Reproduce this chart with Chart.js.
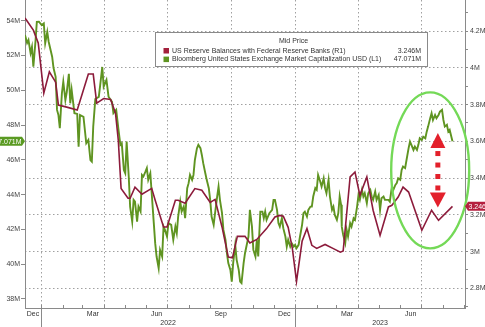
<!DOCTYPE html>
<html><head><meta charset="utf-8">
<script src="https://cdn.jsdelivr.net/npm/chart.js@4.4.0/dist/chart.umd.min.js"></script>
<style>html,body{margin:0;padding:0;background:#fff;overflow:hidden}canvas{display:block}</style>
</head><body><canvas id="c" width="485" height="327"></canvas>
<script>
// ---------- data ----------
// x values are days counted from baseDate
const baseDate = '2022-01-01';
const axisStartDay = -23;
const axisEndDay = 609;

// US Reserve Balances with Federal Reserve Banks, millions (right axis)
const reserveDays = [-23,-11,-4,4,12,21,25,37,52,68,
  75,80,90,100,107,111,115,125,128,135,
  145,159,164,176,181,193,197,207,221,231,
  243,250,260,269,275,282,293,300,310,324,
  336,343,348,355,361,367,375,382,389,396,
  408,420,430,434,444,451,458,468,477,487,
  499,504,513,520,528,547,561,571,591];
const reserveValues = [4.271,4.205,4.135,3.862,3.978,3.922,3.797,3.786,3.770,3.966,
  3.966,3.808,3.833,3.828,3.753,3.606,3.344,3.290,3.290,3.351,
  3.312,3.344,3.279,3.134,3.134,3.279,3.279,3.263,3.343,3.334,
  3.268,3.284,3.134,2.970,2.966,3.083,3.083,3.047,3.066,3.125,
  3.188,3.197,3.192,3.132,3.017,2.838,3.056,3.126,3.034,3.017,
  3.039,3.016,2.997,3.003,3.406,3.433,3.306,3.406,3.225,3.088,
  3.243,3.252,3.297,3.351,3.324,3.116,3.225,3.170,3.246];

// Bloomberg United States Exchange Market Capitalization USD, millions (left axis)
const mcapDays = [-23,-20,-18,-15,-13,-11,-8,-6,-3,1,
  4,6,9,11,16,18,21,23,25,27,
  30,32,35,37,40,42,44,48,52,54,
  56,61,65,68,71,73,75,78,83,85,
  88,90,94,97,102,104,108,111,114,116,
  119,121,123,126,128,131,133,135,138,140,
  143,145,147,150,152,154,157,159,162,164,
  166,169,171,174,176,178,181,183,187,190,
  193,195,197,200,202,205,207,210,212,214,
  217,219,221,224,226,229,231,233,236,238,
  241,243,245,248,250,253,255,257,260,262,
  265,267,269,272,274,276,279,281,284,286,
  288,291,293,298,300,303,305,308,310,312,
  315,318,320,322,324,328,332,334,336,339,
  341,343,346,348,351,353,355,358,360,363,
  365,367,370,372,375,377,379,382,384,387,
  389,391,394,396,398,401,403,406,408,410,
  413,415,418,420,422,425,427,429,431,432,
  434,437,439,441,444,446,449,451,454,456,
  458,461,463,465,468,470,473,475,477,480,
  482,485,487,489,492,494,499,501,504,506,
  509,511,513,516,518,520,523,525,528,530,
  532,535,537,540,542,544,547,549,552,554,
  556,559,561,563,566,568,571,573,576,578,
  580,583,585,587,591];
const mcapValues = [53.18,52.72,52.89,52.14,52.49,51.36,52.78,53.93,53.94,53.75,
  53.85,52.70,53.35,52.79,51.93,51.28,50.77,48.87,48.58,47.82,
  49.83,50.49,49.44,49.90,50.94,49.25,50.02,48.68,48.64,46.76,
  48.58,48.47,46.95,47.14,45.99,45.90,47.91,49.50,49.62,50.30,
  51.34,50.21,50.59,49.63,49.33,48.68,48.87,47.83,46.86,46.95,
  45.42,45.23,47.05,45.04,43.31,42.45,43.70,43.60,42.45,43.31,
  43.03,45.13,45.04,45.32,45.52,44.85,45.23,44.08,42.36,41.21,
  40.44,39.77,40.82,40.44,42.16,41.97,41.59,42.36,42.26,41.40,
  42.16,41.78,42.74,43.60,43.03,43.31,42.64,44.37,44.66,45.13,
  44.85,45.13,45.99,46.67,46.86,46.67,46.28,45.81,45.23,44.85,
  44.37,43.70,42.74,42.26,42.93,43.89,44.46,43.70,42.93,41.97,
  41.40,40.63,40.06,39.67,39.00,40.06,41.11,40.25,39.67,39.00,
  38.91,40.06,40.63,41.59,43.12,42.16,40.82,40.44,41.40,40.44,
  43.02,43.02,42.64,43.02,42.55,42.93,43.12,43.70,43.70,43.12,
  42.36,42.16,42.64,42.07,41.59,41.01,41.40,41.01,41.21,41.01,
  41.11,40.92,41.11,41.59,42.26,42.93,43.02,42.74,43.12,43.31,
  43.31,43.89,44.37,44.27,45.13,44.75,44.46,44.94,44.37,44.08,
  44.85,43.89,43.12,43.31,42.83,42.55,42.93,43.89,43.41,42.16,
  41.69,41.21,41.97,41.59,42.36,42.16,42.64,42.55,43.31,43.98,
  43.70,44.27,43.89,44.08,43.51,44.08,44.27,43.89,43.70,44.17,
  43.70,43.98,43.12,43.79,43.89,43.70,43.70,43.60,44.46,44.27,
  44.56,44.66,44.94,44.85,45.42,45.61,45.52,45.99,46.67,47.05,
  46.86,46.57,46.76,46.57,46.86,47.24,47.14,47.33,47.24,47.62,
  47.91,48.39,48.68,48.29,48.58,48.39,48.58,48.77,48.87,48.29,
  47.91,48.01,47.62,47.72,47.071];

const leftTicks = [38,40,42,44,46,48,50,52,54];
const leftTickLabels = ['38M','40M','42M','44M','46M','48M','50M','52M','54M'];
const rightTicks = [2.8,3.0,3.2,3.4,3.6,3.8,4.0,4.2];
const rightTickLabels = ['2.8M','3M','3.2M','3.4M','3.6M','3.8M','4M','4.2M'];
const monthLabels = ['Dec','Mar','Jun','Sep','Dec','Mar','Jun'];
const monthLabelMonths = ['2021-12','2022-03','2022-06','2022-09','2022-12','2023-03','2023-06'];
const gridMonths = ['2022-01','2022-04','2022-07','2022-10','2023-01','2023-04','2023-07'];
const yearLabels = ['2022','2023'];
const legendTitle = 'Mid Price';
const seriesNames = ['US Reserve Balances with Federal Reserve Banks','Bloomberg United States Exchange Market Capitalization USD'];
const seriesTags = ['(R1)','(L1)'];
const lastValueLabels = ['3.246M','47.071M'];

// ---------- helpers ----------
const BASE = Date.UTC(2022,0,1);
function dayOf(s){const p=s.split('-').map(Number);return (Date.UTC(p[0],p[1]-1,p[2]||1)-BASE)/864e5;}
function nextMonthDay(s){const p=s.split('-').map(Number);return (Date.UTC(p[0],p[1],1)-BASE)/864e5;}
const clampMid=(a,b)=>(Math.max(a,axisStartDay)+Math.min(b,axisEndDay))/2;
const monthLabelPos = monthLabelMonths.map(m=>clampMid(dayOf(m),nextMonthDay(m)));
const yearLabelPos = yearLabels.map(y=>clampMid(dayOf(y+'-01-01'),dayOf((+y+1)+'-01-01')));
const yearStartDays = yearLabels.map(y=>dayOf(y+'-01-01'));
const monthTickDays=[];
for(let y=2021;y<=2023;y++)for(let m=1;m<=12;m++){const d=(Date.UTC(y,m-1,1)-BASE)/864e5;if(d>axisStartDay&&d<axisEndDay)monthTickDays.push(d);}
const rightAll=[];
rightTicks.forEach((v,i)=>{rightAll.push({value:v,label:rightTickLabels[i]});});
[2.7,2.9,3.1,3.3,3.5,3.7,3.9,4.1,4.3].forEach(v=>rightAll.push({value:v,label:'',minor:true}));
rightAll.sort((a,b)=>a.value-b.value);

const RED='#8c1b3b', GREEN='#5f9421';
const FONT='"Liberation Sans", Arial, sans-serif';
Chart.defaults.font.family=FONT;
const noPad=s=>{s.paddingTop=0;s.paddingBottom=0;s.paddingLeft=0;s.paddingRight=0;};

const decor={
  id:'decor',
  beforeDatasetsDraw(chart){
    const {ctx,chartArea:a,scales:{x}}=chart;
    ctx.save();ctx.strokeStyle='#a0a0a0';ctx.lineWidth=1;ctx.setLineDash([1.5,2.5]);
    gridMonths.forEach(m=>{const px=Math.round(x.getPixelForValue(dayOf(m)))+0.5;ctx.beginPath();ctx.moveTo(px,a.top);ctx.lineTo(px,a.bottom);ctx.stroke();});
    ctx.restore();
  },
  afterDraw(chart){
    const {ctx,chartArea:a,scales:{x,yL,yR}}=chart;
    ctx.save();
    ctx.strokeStyle='#8a8a8a';ctx.lineWidth=1;
    monthTickDays.forEach(d=>{const px=Math.round(x.getPixelForValue(d))+0.5;ctx.beginPath();ctx.moveTo(px,a.bottom-3);ctx.lineTo(px,a.bottom);ctx.stroke();});
    yearStartDays.forEach(d=>{if(d<axisStartDay||d>axisEndDay)return;const px=Math.round(x.getPixelForValue(d))+0.5;ctx.beginPath();ctx.moveTo(px,a.bottom);ctx.lineTo(px,chart.height);ctx.stroke();});
    ctx.fillStyle='#333';ctx.font='7px '+FONT;ctx.textAlign='center';ctx.textBaseline='middle';
    yearLabelPos.forEach((d,i)=>ctx.fillText(yearLabels[i],x.getPixelForValue(d),a.bottom+15.5));

    // highlight ellipse
    const ecx=x.getPixelForValue(559), ecy=yR.getPixelForValue(3.442);
    ctx.strokeStyle='#74d957';ctx.lineWidth=2.4;ctx.beginPath();ctx.ellipse(ecx,ecy,39,78,0,0,Math.PI*2);ctx.stroke();

    // red dashed double arrow
    const ax=x.getPixelForValue(570), at=yR.getPixelForValue(3.645), ab=yR.getPixelForValue(3.240);
    ctx.fillStyle='#e3202b';
    ctx.beginPath();ctx.moveTo(ax,at);ctx.lineTo(ax+7.5,at+15);ctx.lineTo(ax-7.5,at+15);ctx.closePath();ctx.fill();
    ctx.beginPath();ctx.moveTo(ax,ab);ctx.lineTo(ax+8,ab-15);ctx.lineTo(ax-8,ab-15);ctx.closePath();ctx.fill();
    const s0=at+18, s1=ab-22, n=4;
    for(let i=0;i<n;i++){const yy=s0+(s1-s0)*i/(n-1);ctx.fillRect(ax-2.5,yy,5,5);}

    // legend box
    const lx=a.left+130, ly=a.top+32, lw=273, lh=35;
    ctx.fillStyle='#fff';ctx.fillRect(lx,ly,lw,lh);
    ctx.strokeStyle='#8a8a8a';ctx.lineWidth=1;ctx.strokeRect(lx+0.5,ly+0.5,lw-1,lh-1);
    ctx.fillStyle='#333';ctx.font='7px '+FONT;ctx.textBaseline='middle';ctx.textAlign='center';
    ctx.fillText(legendTitle,lx+lw/2+2,ly+9.5);
    [0,1].forEach(i=>{
      const ry=ly+18.7+i*8.6;
      ctx.fillStyle=i===0?'#a3203c':'#5f9421';ctx.fillRect(lx+8.5,ry-2.7,5.5,5.5);
      ctx.fillStyle='#333';ctx.textAlign='left';ctx.fillText(seriesNames[i]+' '+seriesTags[i],lx+17,ry);
      ctx.textAlign='right';ctx.fillText(lastValueLabels[i],lx+266,ry);
    });

    // value flags
    ctx.font='7px '+FONT;ctx.textBaseline='middle';
    const gy=yL.getPixelForValue(mcapValues[mcapValues.length-1]);
    ctx.fillStyle='#5a9a22';ctx.beginPath();ctx.moveTo(0,gy-4.5);ctx.lineTo(a.left-3,gy-4.5);ctx.lineTo(a.left,gy);ctx.lineTo(a.left-3,gy+4.5);ctx.lineTo(0,gy+4.5);ctx.closePath();ctx.fill();
    ctx.fillStyle='#fff';ctx.textAlign='right';ctx.fillText(lastValueLabels[1],a.left-3.5,gy+0.5);
    const ry2=yR.getPixelForValue(reserveValues[reserveValues.length-1]);
    ctx.fillStyle='#b51f3f';ctx.beginPath();ctx.moveTo(a.right,ry2);ctx.lineTo(a.right+3,ry2-4.5);ctx.lineTo(chart.width,ry2-4.5);ctx.lineTo(chart.width,ry2+4.5);ctx.lineTo(a.right+3,ry2+4.5);ctx.closePath();ctx.fill();
    ctx.fillStyle='#fff';ctx.textAlign='left';ctx.fillText(lastValueLabels[0],a.right+3.5,ry2+0.5);
    ctx.restore();
  }
};

new Chart(document.getElementById('c'),{
  type:'line',
  data:{datasets:[
    {label:seriesNames[0],data:reserveDays.map((d,i)=>({x:d,y:reserveValues[i]})),yAxisID:'yR',borderColor:RED,borderWidth:1.6,pointRadius:0,tension:0,fill:false},
    {label:seriesNames[1],data:mcapDays.map((d,i)=>({x:d,y:mcapValues[i]})),yAxisID:'yL',borderColor:GREEN,borderWidth:1.9,pointRadius:0,tension:0,fill:false}
  ]},
  options:{
    responsive:false,animation:false,devicePixelRatio:1,events:[],
    layout:{padding:0,autoPadding:false},
    plugins:{legend:{display:false},tooltip:{enabled:false}},
    scales:{
      x:{type:'linear',position:'bottom',min:axisStartDay,max:axisEndDay,
        afterBuildTicks:s=>{s.ticks=monthLabelPos.map(v=>({value:v}));},
        afterFit:s=>{s.height=19;noPad(s);},
        ticks:{autoSkip:false,maxRotation:0,minRotation:0,padding:2,color:'#333',font:{size:7},callback:(v,i)=>monthLabels[i]},
        grid:{display:false,drawTicks:false,tickLength:0},border:{display:true,color:'#8a8a8a',width:1}},
      yL:{type:'linear',position:'left',min:37.48,max:55.19,
        afterBuildTicks:s=>{s.ticks=leftTicks.map(v=>({value:v}));},
        afterFit:s=>{s.width=25;noPad(s);},
        ticks:{padding:1,color:'#444',font:{size:7},callback:(v,i)=>leftTickLabels[i]},
        grid:{drawOnChartArea:false,tickLength:4,tickColor:'#8a8a8a'},border:{color:'#8a8a8a'}},
      yR:{type:'linear',position:'right',min:2.693,max:4.369,
        afterBuildTicks:s=>{s.ticks=rightAll.map(t=>({value:t.value,label0:t.label,minor:!!t.minor}));},
        afterFit:s=>{s.width=20;noPad(s);},
        ticks:{padding:2,color:'#444',font:{size:7},callback:(v,i,t)=>t[i].label0},
        grid:{color:c=>(c.tick&&!c.tick.minor)?'#a0a0a0':'rgba(0,0,0,0)',tickColor:'#8a8a8a',tickLength:3},
        border:{color:'#8a8a8a',dash:[1.5,2.5]}}
    }
  },
  plugins:[decor]
});
</script></body></html>
